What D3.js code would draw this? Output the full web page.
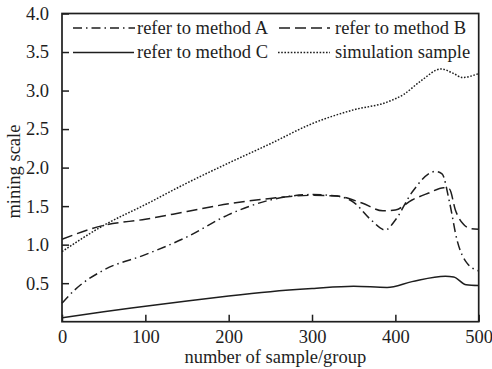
<!DOCTYPE html>
<html>
<head>
<meta charset="utf-8">
<script src="https://cdn.jsdelivr.net/npm/d3@7"></script>
<style>
  html, body { margin: 0; padding: 0; background: #fff; }
  svg { display: block; }
  text { font-family: "Liberation Serif", "Times New Roman", serif; fill: #1e1e1e; }
</style>
</head>
<body>
<svg id="chart" width="492" height="369"></svg>
<script>
// ---- data ----
const xTicks = [0, 100, 200, 300, 400, 500];
const yTicks = [0.5, 1.0, 1.5, 2.0, 2.5, 3.0, 3.5, 4.0];

const methodAX = [0, 15, 50, 100, 150, 200, 250, 300, 330, 350, 370, 388, 400, 420, 448, 456, 465, 474, 486, 500];
const methodAY = [0.24, 0.41, 0.67, 0.87, 1.10, 1.39, 1.58, 1.65, 1.63, 1.55, 1.33, 1.19, 1.32, 1.68, 1.95, 1.92, 1.55, 1.06, 0.76, 0.66];

const methodBX = [0, 50, 100, 150, 200, 250, 300, 330, 360, 385, 400, 420, 440, 458, 465, 472, 482, 490, 500];
const methodBY = [1.07, 1.25, 1.33, 1.43, 1.53, 1.60, 1.64, 1.63, 1.54, 1.44, 1.45, 1.58, 1.67, 1.74, 1.72, 1.45, 1.26, 1.21, 1.20];

const methodCX = [0, 50, 100, 150, 200, 250, 300, 350, 390, 420, 460, 470, 485, 500];
const methodCY = [0.05, 0.13, 0.20, 0.27, 0.335, 0.39, 0.43, 0.46, 0.445, 0.52, 0.59, 0.58, 0.48, 0.47];

const simX = [0, 50, 100, 150, 200, 250, 300, 350, 390, 410, 430, 455, 470, 480, 500];
const simY = [0.91, 1.25, 1.52, 1.80, 2.06, 2.31, 2.57, 2.75, 2.85, 2.95, 3.12, 3.28, 3.22, 3.17, 3.22];

const seriesNames = ["refer to method A", "refer to method B", "refer to method C", "simulation sample"];

// ---- layout ----
const svg = d3.select("#chart");
const L = 62, R = 478.7, T = 13.5, B = 321.7;
const x = d3.scaleLinear().domain([0, 500]).range([L, R]);
const y = d3.scaleLinear().domain([0, 4]).range([B, T]);
const ink = "#1e1e1e";
const fontSize = 18.5;

const series = [
  { name: seriesNames[0], xs: methodAX, ys: methodAY, dash: "9,4,1.5,4" },
  { name: seriesNames[1], xs: methodBX, ys: methodBY, dash: "11,5" },
  { name: seriesNames[2], xs: methodCX, ys: methodCY, dash: null },
  { name: seriesNames[3], xs: simX, ys: simY, dash: "1.6,1.6" }
];

const line = d3.line().x(d => x(d[0])).y(d => y(d[1])).curve(d3.curveMonotoneX);

const plot = svg.append("g");
series.forEach(s => {
  const pts = s.xs.map((v, i) => [v, s.ys[i]]);
  plot.append("path")
    .attr("d", line(pts))
    .attr("fill", "none")
    .attr("stroke", ink)
    .attr("stroke-width", 1.5)
    .attr("stroke-dasharray", s.dash);
});

// axes (ticks inward)
const xAxis = d3.axisBottom(x).tickValues(xTicks).tickSizeInner(-7).tickSizeOuter(0).tickPadding(12).tickFormat(d3.format("d"));
const gx = svg.append("g").attr("transform", `translate(0,${B})`).call(xAxis);
const yAxis = d3.axisLeft(y).tickValues(yTicks).tickSizeInner(-7).tickSizeOuter(0).tickPadding(13).tickFormat(d3.format(".1f"));
const gy = svg.append("g").attr("transform", `translate(${L},0)`).call(yAxis);
[gx, gy].forEach(g => {
  g.select(".domain").remove();
  g.selectAll("line").attr("stroke", ink).attr("stroke-width", 1.5);
  g.selectAll("text").attr("font-size", fontSize).attr("fill", ink)
    .attr("font-family", '"Liberation Serif", "Times New Roman", serif');
});
gx.selectAll("text").attr("dy", "0.71em").attr("y", 8);

// frame
svg.append("rect").attr("x", L).attr("y", T).attr("width", R - L).attr("height", B - T)
  .attr("fill", "none").attr("stroke", ink).attr("stroke-width", 1.7);

// axis titles
svg.append("text").attr("x", (L + R) / 2 + 5).attr("y", 357).attr("dy", "0.32em")
  .attr("text-anchor", "middle").attr("font-size", fontSize).text("number of sample/group");
svg.append("text").attr("transform", `translate(14,${(T + B) / 2 + 4}) rotate(-90)`)
  .attr("dy", "0.32em").attr("text-anchor", "middle").attr("font-size", fontSize).text("mining scale");

// legend
const legendPos = [
  { x1: 73, x2: 135, tx: 137, y: 28 },
  { x1: 279, x2: 330, tx: 335, y: 28 },
  { x1: 73, x2: 134, tx: 137, y: 52.5 },
  { x1: 278, x2: 330, tx: 335, y: 52.5 }
];
const lg = svg.append("g");
series.forEach((s, i) => {
  const p = legendPos[i];
  lg.append("line").attr("x1", p.x1).attr("x2", p.x2).attr("y1", p.y).attr("y2", p.y)
    .attr("stroke", ink).attr("stroke-width", 1.5).attr("stroke-dasharray", s.dash);
  lg.append("text").attr("x", p.tx).attr("y", p.y).attr("dy", "0.3em")
    .attr("font-size", fontSize).text(s.name);
});
</script>
</body>
</html>
